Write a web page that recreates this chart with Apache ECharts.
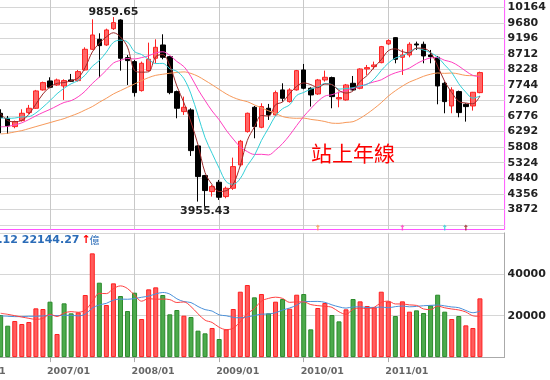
<!DOCTYPE html>
<html>
<head>
<meta charset="utf-8">
<script src="https://cdn.jsdelivr.net/npm/echarts@6/dist/echarts.min.js"></script>
<style>
html,body{margin:0;padding:0;background:#ffffff;}
#chart{width:550px;height:380px;}
</style>
</head>
<body>
<div id="chart"></div>
<script>
// ---- category axis (months) ----
const months = [
'2006/01','2006/02','2006/03','2006/04','2006/05','2006/06','2006/07','2006/08','2006/09','2006/10','2006/11','2006/12',
'2007/01','2007/02','2007/03','2007/04','2007/05','2007/06','2007/07','2007/08','2007/09','2007/10','2007/11','2007/12',
'2008/01','2008/02','2008/03','2008/04','2008/05','2008/06','2008/07','2008/08','2008/09','2008/10','2008/11','2008/12',
'2009/01','2009/02','2009/03','2009/04','2009/05','2009/06','2009/07','2009/08','2009/09','2009/10','2009/11','2009/12',
'2010/01','2010/02','2010/03','2010/04','2010/05','2010/06','2010/07','2010/08','2010/09','2010/10','2010/11','2010/12',
'2011/01','2011/02','2011/03','2011/04','2011/05','2011/06','2011/07','2011/08','2011/09','2011/10','2011/11','2011/12',
'2012/01','2012/02','2012/03','2012/04','2012/05'];
const dataStartMonth = '2006/06';
const yearLabels = ['2006/01','2007/01','2008/01','2009/01','2010/01','2011/01'];

// ---- monthly OHLC (2006/06 .. 2012/02) ----
const open  = [6863,6707,6448,6635,6884,7019,7590,7870,7745,7714,7901,7880,8212,8856,9167,8991,9499,9769,8596,8472,7569,8191,8576,8991,8627,7538,6915,6967,5846,4922,4424,4714,4268,4527,5254,6292,7050,6427,7019,6811,7590,7226,7590,8212,7642,7465,7901,7974,7309,7278,7797,7642,8243,8316,8441,9022,9219,8607,8679,9022,9012,8679,8607,7797,7091,7538,7143,7091,7506];
const close = [6728,6469,6603,6863,7019,7559,7818,7673,7901,7880,7860,8161,8856,9302,8970,9458,9686,8576,8503,7507,8420,8544,8918,8607,7507,7019,7050,5700,4891,4455,4579,4247,4527,5202,5991,6863,6448,7071,6811,7506,7330,7590,8191,7642,7434,7901,7984,7382,7351,7745,7590,8243,8285,8368,8939,9126,8544,8679,9012,8991,8648,8627,7714,7226,7590,6884,7071,7517,8130];
const low   = [6240,6219,6396,6603,6842,6998,7569,7642,7714,7278,7839,7849,8191,8835,7984,8960,9458,8191,7745,7382,7538,8161,8420,8544,7455,6707,6811,5534,4112,3955.43,4268,4164,4216,4476,5202,6261,6084,6396,6655,6780,7226,7195,7569,7610,7071,7434,7849,7019,7050,7257,7569,7610,8057,8233,8420,8991,8420,8057,8607,8835,8420,8420,7143,6863,6863,6738,6603,6946,7486];
const high  = [6987,6780,6634,6987,7123,7590,7849,7984,7943,7922,8088,8212,8918,9790,9354,9499,9859.65,9790,8679,8524,8472,9063,9167,9323,8648,7569,7382,7019,5870,4943,4631,4787,4579,5482,6032,6884,7091,7174,7154,7569,7797,7642,8212,8399,7673,7932,8191,8005,7538,7776,8025,8264,8368,8472,8960,9167,9230,8856,9074,9095,9095,8835,8648,7849,7673,7569,7174,7528,8160];

// ---- moving averages ----
const ma3  = [6850,6637,6600,6645,6828,7147,7465,7683,7797,7818,7880,7967,8292,8773,9043,9243,9371,9240,8922,8195,8143,8157,8627,8690,8344,7711,7192,6590,5880,5015,4642,4427,4451,4659,5240,6019,6434,6794,6777,7129,7216,7475,7704,7808,7756,7659,7773,7756,7572,7493,7562,7859,8039,8299,8531,8811,8870,8783,8745,8894,8884,8755,8330,7856,7510,7233,7182,7157,7400];
const ma6  = [6715,6705,6715,6750,6760,6874,7055,7256,7472,7642,7782,7882,8055,8327,8505,8768,9072,9141,9083,8783,8692,8539,8411,8417,8251,8169,7941,7467,6796,6104,5616,5154,4733,4650,4834,5235,5546,6017,6398,6782,7005,7126,7417,7512,7616,7681,7790,7756,7616,7633,7659,7716,7766,7930,8195,8425,8584,8657,8778,8882,8833,8750,8612,8370,8133,7782,7519,7334,7403];
const ma12 = [6442,6455,6502,6564,6669,6782,6888,6983,7094,7200,7257,7378,7555,7791,7989,8205,8427,8512,8569,8555,8598,8654,8742,8779,8667,8476,8316,8003,7604,7260,6933,6661,6337,6059,5815,5669,5581,5585,5565,5716,5919,6180,6481,6764,7007,7232,7398,7441,7516,7572,7637,7699,7778,7843,7905,8029,8122,8186,8272,8406,8514,8588,8598,8513,8455,8332,8176,8042,8007];
const ma24 = [6219,6240,6282,6323,6385,6448,6510,6572,6635,6697,6780,6863,6967,7071,7206,7330,7465,7569,7673,7776,7880,7975,8045,8078,8111,8134,8152,8104,8015,7886,7751,7608,7468,7356,7278,7224,7124,7031,6941,6860,6761,6720,6707,6713,6672,6645,6606,6555,6549,6579,6601,6707,6849,7012,7193,7397,7564,7709,7835,7923,8015,8080,8118,8106,8117,8087,8041,8035,8064];

// ---- volume (億) and its averages ----
const volume = [20330,15180,17440,15990,16950,23560,23230,26770,11160,25970,21140,21620,30000,50120,35950,25170,35630,29510,22270,31110,18400,32740,33700,30000,20660,22750,20010,19370,12770,11480,14060,8740,13410,23230,31600,34820,28870,30470,21140,26770,28060,23390,30150,30470,13410,23720,26130,20330,17270,23070,28060,26930,24680,24040,31600,26930,19850,26930,21950,22590,21300,25000,30150,21950,18400,19850,15340,14060,28380];
const mv6  = [21170,20660,20010,19370,18730,18242,18725,20657,19610,21273,21972,21648,22777,26668,30800,30667,33082,34397,33108,29940,27015,28277,27955,28037,27768,26375,26643,24415,20927,17840,16740,14405,13305,13948,17087,20977,23445,27067,28355,28945,28355,26450,26663,26663,25375,24867,24545,24035,21888,20655,23097,23632,23390,24008,26397,27040,25672,25672,25217,24975,23258,22937,24653,23823,23232,22775,21782,19958,19663];
const mv12 = [19880,19720,19560,19560,19720,19720,19880,20200,20040,20200,20200,19945,20751,23663,25205,25970,27527,28023,27943,28304,28908,29472,30518,31217,30438,28158,26829,26346,24441,22938,22254,20390,19974,19182,19007,19408,20093,20736,20830,21447,22721,23713,25054,26865,26865,26906,26450,25243,24276,23659,24236,24249,23968,24022,24143,23848,24384,24652,24303,24492,24828,24988,25163,24748,24224,23875,22520,21448,22144.27];

// ---- tick labels / annotations ----
const priceTicks = [3388,3872,4356,4840,5324,5808,6292,6776,7260,7744,8228,8712,9196,9680,10164];
const priceLabels = [3872,4356,4840,5324,5808,6292,6776,7260,7744,8228,8712,9196,9680,10164];
const extremes = [{month:'2007/10', value:9859.65, side:'top'}, {month:'2008/11', value:3955.43, side:'bottom'}];
const deductMonths = ['2010/03','2011/03','2011/09','2011/12']; // MA24, MA12, MA6, MA3
const volTitleValues = '19663.12 22144.27';
const volUnit = '億';
const noteText = '站上年線';

// ---------------------------------------------------------------
const START = months.indexOf(dataStartMonth);
function pad(arr){
  return months.map(function(m, j){ const i = j - START; return (i >= 0 && i < arr.length) ? arr[i] : '-'; });
}
const candleData = months.map(function(m, j){
  const i = j - START;
  return (i >= 0 && i < close.length) ? [open[i], close[i], low[i], high[i]] : ['-','-','-','-'];
});
const RED = '#ff5c5c', RED_B = '#ff2020', GREEN = '#4caa4c', GREEN_B = '#2b8a2b';
const volData = months.map(function(m, j){
  const i = j - START;
  if (i < 0 || i >= volume.length) return '-';
  const up = i > 0 && close[i] >= close[i-1];
  return {value: volume[i], itemStyle: {color: up ? RED : GREEN, borderColor: up ? RED_B : GREEN_B}};
});

const PRICE_MIN = 3242.7, PRICE_MAX = 10422.5;
const isYear = function(idx, val){ return yearLabels.indexOf(val) >= 0; };
const plain = function(v){ return String(v); };
const FONT = 'DejaVu Sans';
const vLines = {
  silent: true, symbol: ['none','none'], z: 1, animation: false,
  label: {show: false},
  lineStyle: {color: '#c8c8c8', width: 1, type: 'solid'},
  emphasis: {disabled: true},
  data: yearLabels.map(function(m){ return {xAxis: m}; })
};

const chart = echarts.init(document.getElementById('chart'), null, {renderer: 'canvas'});
const markerColors = ['#f7995a', '#ff3fc0', '#33d0d8', '#9b2a2a'];

chart.setOption({
  animation: false,
  backgroundColor: '#ffffff',
  grid: [
    {left: -38.1, right: 45.4, top: -1, bottom: 150.5, show: true, borderColor: '#ff55ff', borderWidth: 1,
     containLabel: false, outerBoundsMode: 'none'},
    {left: -38.1, right: 45.4, top: 232.9, bottom: 22.9, containLabel: false, outerBoundsMode: 'none'}
  ],
  xAxis: [
    {type: 'category', gridIndex: 0, data: months, boundaryGap: true,
     axisLine: {show: false}, axisTick: {show: false}, axisLabel: {show: false}, splitLine: {show: false}},
    {type: 'category', gridIndex: 1, data: months, boundaryGap: true,
     axisLine: {show: true, lineStyle: {color: '#aaaaaa', width: 1}},
     axisTick: {show: true, alignWithLabel: true, interval: isYear, length: 5, lineStyle: {color: '#aaaaaa'}},
     axisLabel: {show: true, interval: isYear, align: 'left', padding: [0,0,0,-3], margin: 9,
                 color: '#666666', fontWeight: 'bold', fontSize: 9.5, fontFamily: FONT},
     splitLine: {show: false}}
  ],
  yAxis: [
    {type: 'value', gridIndex: 0, position: 'right', min: PRICE_MIN, max: PRICE_MAX, scale: true,
     axisLine: {show: false},
     axisTick: {show: false, customValues: priceTicks},
     axisLabel: {show: true, customValues: priceLabels, formatter: plain, margin: 3, color: '#222222',
                 fontWeight: 'bold', fontSize: 11, fontFamily: FONT},
     splitLine: {show: true, lineStyle: {color: '#d6d6d6', width: 1}}},
    {type: 'value', gridIndex: 1, position: 'right', min: 0, max: 60000, interval: 20000,
     axisLine: {show: true, lineStyle: {color: '#aaaaaa', width: 1}},
     axisTick: {show: false},
     axisLabel: {show: true, showMinLabel: false, showMaxLabel: false, formatter: plain, margin: 3, color: '#222222',
                 fontWeight: 'bold', fontSize: 11, fontFamily: FONT},
     splitLine: {show: true, lineStyle: {color: '#d6d6d6', width: 1}}}
  ],
  series: [
    {type: 'line', name: 'MA24', xAxisIndex: 0, yAxisIndex: 0, data: pad(ma24), smooth: 0.35,
     showSymbol: false, z: 4, lineStyle: {color: '#f7995a', width: 1}, markLine: vLines},
    {type: 'candlestick', name: 'K', xAxisIndex: 0, yAxisIndex: 0, data: candleData, barWidth: 5, z: 3,
     itemStyle: {color: '#ff6666', color0: '#000000', borderColor: '#ff2222', borderColor0: '#000000', borderWidth: 1},
     markPoint: {
       symbol: 'rect', symbolSize: 0, silent: true, animation: false,
       label: {show: true, position: 'inside', color: '#222222', fontWeight: 'bold', fontSize: 11, fontFamily: FONT,
               formatter: function(p){ return p.value.toFixed(2); }},
       data: extremes.map(function(e){
         return {coord: [e.month, e.value], value: e.value, label: {offset: [0, e.side === 'top' ? -5 : 5]}};
       })
     }},
    {type: 'line', name: 'MA12', xAxisIndex: 0, yAxisIndex: 0, data: pad(ma12), smooth: 0.35,
     showSymbol: false, z: 4, lineStyle: {color: '#ff3fc0', width: 1}},
    {type: 'line', name: 'MA6', xAxisIndex: 0, yAxisIndex: 0, data: pad(ma6), smooth: 0.35,
     showSymbol: false, z: 4, lineStyle: {color: '#33d0d8', width: 1}},
    {type: 'line', name: 'MA3', xAxisIndex: 0, yAxisIndex: 0, data: pad(ma3), smooth: 0.35,
     showSymbol: false, z: 4, lineStyle: {color: '#9b2a2a', width: 1}},
    {type: 'scatter', name: 'deduct', xAxisIndex: 0, yAxisIndex: 0, clip: false, z: 6,
     symbol: 'path://M2,0 L4,3 L2.7,3 L2.7,7 L1.3,7 L1.3,3 L0,3 Z', symbolSize: [4, 6], symbolOffset: [0, -2],
     data: deductMonths.map(function(m, i){ return {value: [m, PRICE_MIN], itemStyle: {color: markerColors[i]}}; })},
    {type: 'bar', name: 'VOL', xAxisIndex: 1, yAxisIndex: 1, data: volData, barWidth: 5, z: 2,
     itemStyle: {borderWidth: 1}},
    {type: 'line', name: 'MV12', xAxisIndex: 1, yAxisIndex: 1, data: pad(mv12), smooth: 0.35,
     showSymbol: false, z: 4, lineStyle: {color: '#4a90d9', width: 1}, markLine: vLines},
    {type: 'line', name: 'MV6', xAxisIndex: 1, yAxisIndex: 1, data: pad(mv6), smooth: 0.35,
     showSymbol: false, z: 4, lineStyle: {color: '#ff4040', width: 1}}
  ],
  graphic: [
    {type: 'text', x: 311, y: 153, silent: true, z: 10,
     style: {text: noteText, fill: '#ff0000', font: 'normal 21px "Noto Sans CJK TC"', verticalAlign: 'middle', align: 'left'}},
    {type: 'text', x: 79.5, y: 240.5, silent: true, z: 10,
     style: {text: volTitleValues, fill: '#2b6cb8', font: 'bold 11px "DejaVu Sans"', verticalAlign: 'middle', align: 'right'}},
    {type: 'text', x: 81.5, y: 240.5, silent: true, z: 10,
     style: {text: '↑', fill: '#ff0000', font: 'bold 11px "DejaVu Sans"', verticalAlign: 'middle', align: 'left'}},
    {type: 'text', x: 89.5, y: 240.5, silent: true, z: 10,
     style: {text: volUnit, fill: '#2b6cb8', font: 'normal 10px "Noto Sans CJK TC"', verticalAlign: 'middle', align: 'left'}}
  ]
});
</script>
</body>
</html>
